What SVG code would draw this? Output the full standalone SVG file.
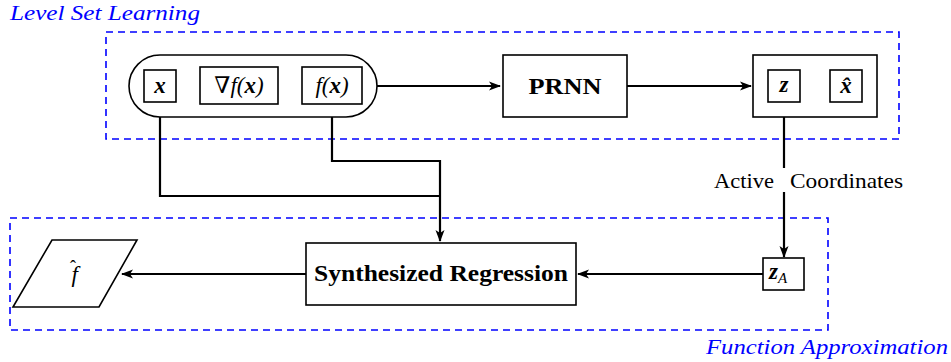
<svg xmlns="http://www.w3.org/2000/svg" width="951" height="362" viewBox="0 0 951 362">
<style>
  .grp { fill: none; stroke: #0000ff; stroke-width: 1.6; stroke-dasharray: 7 5; }
  .node { fill: #ffffff; stroke: #000; stroke-width: 1.6; }
  .conn { fill: none; stroke: #000; stroke-width: 2.2; }
  text { font-family: 'Liberation Serif', 'DejaVu Serif', serif; }
  .t { font-size: 22px; fill: #000; }
  .math { font-size: 23px; font-style: italic; fill: #000; }
  .bm { font-weight: bold; }
  .lbl { font-size: 21px; font-style: italic; fill: #0000ff; }
  .b { font-weight: bold; font-size: 23px; }
</style>
<defs>
  <marker id="arr" viewBox="0 0 12 10" refX="11" refY="5" markerWidth="12" markerHeight="10" markerUnits="userSpaceOnUse" orient="auto">
    <path d="M0,0.5 L12,5 L0,9.5 L3,5 z" fill="#000"/>
  </marker>
</defs>

<g id="groups">
  <rect class="grp" x="106" y="32" width="793" height="107"/>
  <text class="lbl" x="10" y="20" textLength="190" lengthAdjust="spacingAndGlyphs">Level Set Learning</text>
  <rect class="grp" x="10" y="218" width="818" height="112"/>
  <text class="lbl" x="706" y="354" textLength="242" lengthAdjust="spacingAndGlyphs">Function Approximation</text>
</g>

<g id="connectors">
  <line class="conn" x1="377" y1="86" x2="500" y2="86" marker-end="url(#arr)"/>
  <line class="conn" x1="627" y1="86" x2="751" y2="86" marker-end="url(#arr)"/>
  <line class="conn" x1="784" y1="102" x2="784" y2="257" marker-end="url(#arr)"/>
  <line class="conn" x1="763" y1="274" x2="578" y2="274" marker-end="url(#arr)"/>
  <line class="conn" x1="306" y1="274" x2="122" y2="274" marker-end="url(#arr)"/>
  <polyline class="conn" points="160,102 160,196 440,196"/>
  <polyline class="conn" points="332,104 332,161 440,161 440,241" marker-end="url(#arr)"/>
  <rect x="776" y="168" width="16" height="24" fill="#fff" stroke="none"/>
  <text class="t" x="774" y="188" text-anchor="end" textLength="60" lengthAdjust="spacingAndGlyphs">Active</text>
  <text class="t" x="790" y="188" textLength="113" lengthAdjust="spacingAndGlyphs">Coordinates</text>
</g>

<g id="input">
  <rect class="node" x="129" y="55" width="248" height="62" rx="31" ry="31"/>
  <g id="x">
    <rect class="node" x="144" y="70" width="32" height="32"/>
    <text class="math bm" x="160" y="93" text-anchor="middle">x</text>
  </g>
  <g id="gradf">
    <rect class="node" x="200" y="67" width="78" height="37"/>
    <text class="math" x="239" y="93" text-anchor="middle"><tspan font-style="normal">∇</tspan>f(<tspan class="bm">x</tspan>)</text>
  </g>
  <g id="fx">
    <rect class="node" x="302" y="67" width="60" height="37"/>
    <text class="math" x="332" y="93" text-anchor="middle">f(<tspan class="bm">x</tspan>)</text>
  </g>
</g>

<g id="prnn">
  <rect class="node" x="503" y="55" width="124" height="62"/>
  <text class="b" x="565" y="94" text-anchor="middle" textLength="73" lengthAdjust="spacingAndGlyphs">PRNN</text>
</g>

<g id="output">
  <rect class="node" x="753" y="55" width="124" height="62"/>
  <g id="z">
    <rect class="node" x="768" y="70" width="32" height="32"/>
    <text class="math bm" x="784" y="92" text-anchor="middle">z</text>
  </g>
  <g id="xhat">
    <rect class="node" x="830" y="70" width="32" height="32"/>
    <text class="math bm" x="846" y="93" text-anchor="middle">x̂</text>
  </g>
</g>

<g id="zA">
  <rect class="node" x="763" y="258" width="41" height="32"/>
  <text class="math bm" x="769" y="279">z<tspan font-weight="normal" font-size="15" dy="4">A</tspan></text>
</g>

<g id="regression">
  <rect class="node" x="306" y="243" width="270" height="62"/>
  <text class="b" x="441" y="281" text-anchor="middle" textLength="254" lengthAdjust="spacingAndGlyphs">Synthesized Regression</text>
</g>

<g id="fhat">
  <polygon class="node" points="52,240 137,240 99,307 13,307"/>
  <text class="math" x="70" y="282">f<tspan font-style="normal" font-size="18" dx="-8" dy="-9">ˆ</tspan></text>
</g>
</svg>
